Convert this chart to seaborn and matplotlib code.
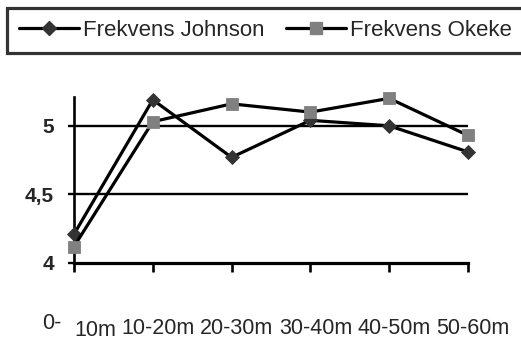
import matplotlib
matplotlib.use("Agg")
import matplotlib.pyplot as plt
import matplotlib.transforms as mtransforms
from matplotlib.lines import Line2D
import seaborn as sns
import pandas as pd

categories = ["0-10m", "10-20m", "20-30m", "30-40m", "40-50m", "50-60m"]
johnson = [4.21, 5.19, 4.77, 5.04, 5.00, 4.81]
okeke = [4.12, 5.03, 5.16, 5.10, 5.20, 4.93]
series_names = ["Frekvens Johnson", "Frekvens Okeke"]
ytick_vals = [4, 4.5, 5]
ytick_labels = ["4", "4,5", "5"]

df = pd.DataFrame({
    "cat": categories * 2,
    "val": johnson + okeke,
    "series": [series_names[0]] * len(categories) + [series_names[1]] * len(categories),
})

sns.set_style("white")
plt.rcParams["font.family"] = ["Liberation Sans", "DejaVu Sans"]

fig = plt.figure(figsize=(5.21, 3.43), dpi=100)
ax = fig.add_axes([74 / 521, 1 - 263 / 343, (468 - 74) / 521, (263 - 97) / 343])

mk_face = {series_names[0]: "#333333", series_names[1]: "#808080"}
sns.lineplot(data=df, x="cat", y="val", hue="series", style="series",
             palette={series_names[0]: "black", series_names[1]: "black"},
             markers={series_names[0]: "D", series_names[1]: "s"},
             dashes=False, sort=False, linewidth=2.3, legend=False, ax=ax)

ms = {series_names[0]: 7.5, series_names[1]: 8.0}
for line, name in zip(ax.lines, series_names):
    line.set_markerfacecolor(mk_face[name])
    line.set_markeredgecolor(mk_face[name])
    line.set_markersize(ms[name])
    line.set_markeredgewidth(0.6)
    line.set_zorder(5)
    line.set_clip_on(False)

ax.set_xlim(0, len(categories) - 1)
ax.set_ylim(4, 5.21)
for yv in ytick_vals[1:]:
    ax.axhline(yv, color="black", lw=1.7, zorder=1)

for s in ["top", "right"]:
    ax.spines[s].set_visible(False)
ax.spines["left"].set_color("black")
ax.spines["left"].set_linewidth(1.9)
ax.spines["bottom"].set_color("black")
ax.spines["bottom"].set_linewidth(2.3)

ax.set_yticks(ytick_vals)
ax.set_yticklabels(ytick_labels, fontsize=15, fontweight="bold")
ax.tick_params(axis="y", direction="out", length=4.5, width=1.7, color="black", pad=10, left=True)
ax.set_xticks(range(len(categories)))
ax.set_xticklabels([""] + categories[1:], fontsize=15.5)
ax.tick_params(axis="x", direction="out", length=6.5, width=1.9, color="black", pad=33, bottom=True)
shift = mtransforms.ScaledTranslation(5 / 100, 0, fig.dpi_scale_trans)
for lbl in ax.get_xticklabels():
    lbl.set_transform(lbl.get_transform() + shift)
ax.set_xlabel("")
ax.set_ylabel("")

trans = mtransforms.blended_transform_factory(ax.transData, fig.transFigure)
first = categories[0].split("-")
ax.text(-0.41, 1 - 313 / 343, first[0] + "-", transform=trans, ha="left", va="top", fontsize=15.5)
ax.text(0, 1 - 320 / 343, first[1], transform=trans, ha="left", va="top", fontsize=15.5)

handles = [Line2D([], [], color="black", lw=2.3, marker="D", ms=7.5,
                  mfc=mk_face[series_names[0]], mec=mk_face[series_names[0]]),
           Line2D([], [], color="black", lw=2.3, marker="s", ms=8,
                  mfc=mk_face[series_names[1]], mec=mk_face[series_names[1]])]
leg = fig.legend(handles, series_names, loc="upper left", bbox_to_anchor=(7 / 521, 1 - 8 / 343),
                 ncol=2, fontsize=16, frameon=True, fancybox=False, borderaxespad=0,
                 handlelength=2.7, handletextpad=0.15, columnspacing=1.0, borderpad=0.55)
leg.get_frame().set_edgecolor("black")
leg.get_frame().set_linewidth(2.3)

fig.savefig("out.png", dpi=100)
